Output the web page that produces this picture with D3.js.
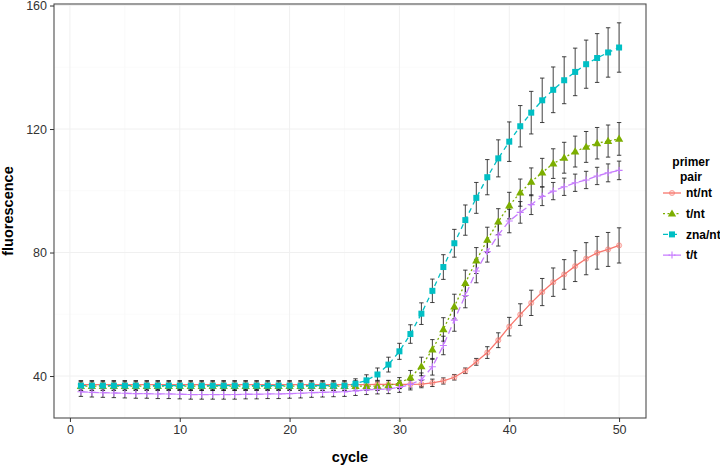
<!DOCTYPE html>
<html><head><meta charset="utf-8">
<script src="https://cdn.jsdelivr.net/npm/d3@7"></script>
<style>body{margin:0;background:#fff}svg{display:block;font-family:"Liberation Sans",Arial,sans-serif}</style>
</head><body><svg id="c" width="720" height="465"></svg>
<script>
const cycles = d3.range(1, 51);
const seriesNames = ["nt/nt", "t/nt", "zna/nt", "t/t"];
const xTicks = [0, 10, 20, 30, 40, 50];
const yTicks = [40, 80, 120, 160];

const ntnt = [37.2,37.2,37.2,37.2,37.2,37.2,37.2,37.2,37.2,37.2,37.2,37.2,37.2,37.2,37.2,37.2,37.2,37.2,37.2,37.2,37.2,37.2,37.2,37.2,37.2,37.2,37.2,37.3,37.3,37.3,37.3,37.4,37.8,38.4,39.6,41.7,44.6,47.6,51.6,56.0,59.9,63.7,67.2,70.4,72.9,75.6,78.0,79.9,81.0,82.3];
const ntntErr = [1.3,1.3,1.3,1.3,1.3,1.3,1.3,1.3,1.3,1.3,1.3,1.3,1.3,1.3,1.3,1.3,1.3,1.3,1.3,1.3,1.3,1.3,1.3,1.3,1.3,1.3,1.3,1.3,1.3,1.3,1.2,1.2,1.2,1.0,0.9,0.9,1.1,1.9,2.4,3.0,3.5,4.1,4.4,4.6,4.8,5.0,5.2,5.3,5.5,5.7];
const tnt = [36.7,36.7,36.7,36.7,36.7,36.7,36.7,36.7,36.7,36.7,36.7,36.7,36.7,36.7,36.7,36.7,36.7,36.7,36.7,36.7,36.7,36.7,36.7,36.7,36.7,36.7,36.7,36.7,37.0,37.7,39.5,43.1,48.6,55.1,62.5,70.1,77.4,84.1,90.0,95.2,99.4,102.9,105.9,108.8,110.7,112.7,114.2,115.4,116.1,116.8];
const tntErr = [1.4,1.4,1.4,1.4,1.4,1.4,1.4,1.4,1.4,1.4,1.4,1.4,1.4,1.4,1.4,1.4,1.4,1.4,1.4,1.4,1.4,1.4,1.4,1.4,1.4,1.4,1.4,1.4,1.5,1.8,2.3,3.0,3.2,3.8,4.0,4.2,4.2,4.1,4.2,4.3,4.4,4.5,4.6,4.8,5.0,5.0,5.0,5.1,5.2,5.3];
const znant = [36.9,36.9,36.9,36.9,36.9,36.9,36.9,36.9,36.9,36.9,36.9,36.9,36.9,36.9,36.9,36.9,36.9,36.9,36.9,36.9,36.9,36.9,36.9,36.9,36.9,37.5,38.6,40.5,43.7,48.0,53.6,60.2,67.6,75.3,83.0,90.5,97.7,104.4,110.5,115.9,120.9,125.3,129.3,132.7,135.8,138.5,141.0,143.0,144.8,146.4];
const znantErr = [1.5,1.5,1.5,1.5,1.5,1.5,1.5,1.5,1.5,1.5,1.5,1.5,1.5,1.5,1.5,1.5,1.5,1.5,1.5,1.5,1.5,1.5,1.5,1.5,1.5,1.6,1.8,2.1,2.4,2.6,3.0,3.5,3.8,4.0,4.5,4.9,5.0,5.7,6.0,6.4,6.7,6.9,7.2,7.4,7.6,7.7,7.8,7.9,8.0,8.0];
const tt = [34.9,34.7,34.6,34.5,34.4,34.3,34.3,34.2,34.2,34.1,34.0,34.0,34.0,34.0,34.0,34.1,34.1,34.2,34.2,34.3,34.4,34.6,34.7,34.8,34.9,35.2,35.5,35.7,35.8,36.3,37.3,38.8,43.0,49.9,58.1,66.1,74.0,80.3,85.7,90.2,93.0,95.5,98.2,99.9,101.3,102.6,103.5,104.8,105.8,106.6];
const ttErr = [1.5,1.5,1.5,1.5,1.5,1.5,1.5,1.5,1.5,1.5,1.5,1.5,1.5,1.5,1.5,1.5,1.5,1.5,1.5,1.5,1.5,1.5,1.5,1.5,1.5,1.5,1.5,1.5,1.5,1.6,1.8,2.2,2.7,3.0,3.6,4.0,3.8,3.4,3.6,3.8,3.5,3.2,3.0,2.8,2.8,2.8,2.8,2.8,2.9,3.0];

const colors = ["#F8766D", "#7CAE00", "#00BFC4", "#C77CFF"];
const dashes = [null, "2,2.5", "5,4", "7,4"];
const shapes = ["circle", "triangle", "square", "plus"];
const values = [ntnt, tnt, znant, tt];
const errs = [ntntErr, tntErr, znantErr, ttErr];

const series = seriesNames.map((name, i) => ({
  name, color: colors[i], dash: dashes[i], shape: shapes[i],
  pts: cycles.map((c, j) => ({c, v: values[i][j], lo: values[i][j] - errs[i][j], hi: values[i][j] + errs[i][j]}))
}));

const svg = d3.select("#c");
const L = 54, R = 646, T = 4, B = 418;

const xmin = d3.min(cycles), xmax = d3.max(cycles), xpad = (xmax - xmin) * 0.05;
const x = d3.scaleLinear().domain([xmin - xpad, xmax + xpad]).range([L, R]);
const ylo = d3.min(series, s => d3.min(s.pts, p => p.lo));
const yhi = d3.max(series, s => d3.max(s.pts, p => p.hi));
const ypad = (yhi - ylo) * 0.05;
const y = d3.scaleLinear().domain([ylo - ypad, yhi + ypad]).range([B, T]);

// grid
const g = svg.append("g");
const xMinor = [5, 15, 25, 35, 45];
const yMinor = [60, 100, 140];
g.selectAll(".gxm").data(xMinor).enter().append("line").attr("x1", d => x(d)).attr("x2", d => x(d)).attr("y1", T).attr("y2", B).attr("stroke", "#f7f7f7").attr("stroke-width", 0.6);
g.selectAll(".gym").data(yMinor).enter().append("line").attr("y1", d => y(d)).attr("y2", d => y(d)).attr("x1", L).attr("x2", R).attr("stroke", "#f7f7f7").attr("stroke-width", 0.6);
g.selectAll(".gx").data(xTicks).enter().append("line").attr("x1", d => x(d)).attr("x2", d => x(d)).attr("y1", T).attr("y2", B).attr("stroke", "#f0f0f0").attr("stroke-width", 1);
g.selectAll(".gy").data(yTicks).enter().append("line").attr("y1", d => y(d)).attr("y2", d => y(d)).attr("x1", L).attr("x2", R).attr("stroke", "#f0f0f0").attr("stroke-width", 1);

const plot = svg.append("g");
const cap = 2.2;
// error bars
series.forEach(s => {
  const eg = plot.append("g").attr("stroke", "#222").attr("stroke-opacity", 0.85).attr("stroke-width", 1);
  s.pts.forEach(p => {
    const px = x(p.c);
    eg.append("line").attr("x1", px).attr("x2", px).attr("y1", y(p.lo)).attr("y2", y(p.hi));
    eg.append("line").attr("x1", px - cap).attr("x2", px + cap).attr("y1", y(p.lo)).attr("y2", y(p.lo));
    eg.append("line").attr("x1", px - cap).attr("x2", px + cap).attr("y1", y(p.hi)).attr("y2", y(p.hi));
  });
});

const line = d3.line().x(p => x(p.c)).y(p => y(p.v));
function marker(sel, shape, color, cx, cy) {
  if (shape === "circle") {
    sel.append("circle").attr("cx", cx).attr("cy", cy).attr("r", 2.6).attr("fill", color).attr("fill-opacity", 0.3).attr("stroke", color).attr("stroke-opacity", 0.55).attr("stroke-width", 1);
  } else if (shape === "triangle") {
    const sym = d3.symbol().type(d3.symbolTriangle).size(30);
    sel.append("path").attr("d", sym).attr("transform", `translate(${cx},${cy + 0.5})`).attr("fill", color);
  } else if (shape === "square") {
    sel.append("rect").attr("x", cx - 3).attr("y", cy - 3).attr("width", 6).attr("height", 6).attr("fill", color);
  } else {
    sel.append("path").attr("d", `M${cx - 3.5},${cy}H${cx + 3.5}M${cx},${cy - 3.5}V${cy + 3.5}`).attr("stroke", color).attr("stroke-width", 1.1).attr("fill", "none");
  }
}
series.forEach(s => {
  plot.append("path").datum(s.pts).attr("d", line).attr("fill", "none").attr("stroke", s.color).attr("stroke-width", 1.3).attr("stroke-dasharray", s.dash);
});
series.forEach(s => {
  const mg = plot.append("g");
  s.pts.forEach(p => marker(mg, s.shape, s.color, x(p.c), y(p.v)));
});

// panel border
svg.append("rect").attr("x", L).attr("y", T).attr("width", R - L).attr("height", B - T).attr("fill", "none").attr("stroke", "#4d4d4d").attr("stroke-width", 1.1);

// axes
const xa = svg.append("g").attr("transform", `translate(0,${B})`).call(d3.axisBottom(x).tickValues(xTicks).tickSize(4).tickPadding(3));
const ya = svg.append("g").attr("transform", `translate(${L},0)`).call(d3.axisLeft(y).tickValues(yTicks).tickSize(4).tickPadding(3));
[xa, ya].forEach(a => {
  a.select(".domain").remove();
  a.selectAll(".tick line").attr("stroke", "#333");
  a.selectAll(".tick text").attr("fill", "#333").style("font-size", "12.5px").style("font-family", "'Liberation Sans', Arial, sans-serif");
});

svg.append("text").attr("x", (L + R) / 2).attr("y", 462).attr("text-anchor", "middle").style("font-size", "14.5px").style("font-weight", "bold").text("cycle");
svg.append("text").attr("transform", `translate(13,${(T + B) / 2}) rotate(-90)`).attr("text-anchor", "middle").style("font-size", "14.5px").style("font-weight", "bold").text("fluorescence");

// legend
const lg = svg.append("g");
lg.append("text").attr("x", 691).attr("y", 166).attr("text-anchor", "middle").style("font-size", "12px").style("font-weight", "bold").text("primer");
lg.append("text").attr("x", 691).attr("y", 181).attr("text-anchor", "middle").style("font-size", "12px").style("font-weight", "bold").text("pair");
series.forEach((s, i) => {
  const cy = 193 + i * 20.7;
  lg.append("line").attr("x1", 663).attr("x2", 681).attr("y1", cy).attr("y2", cy).attr("stroke", s.color).attr("stroke-width", 1.3).attr("stroke-dasharray", s.dash);
  marker(lg, s.shape, s.color, 672, cy);
  lg.append("text").attr("x", 686).attr("y", cy + 4.3).style("font-size", "12px").style("font-weight", "bold").text(s.name);
});
</script></body></html>
